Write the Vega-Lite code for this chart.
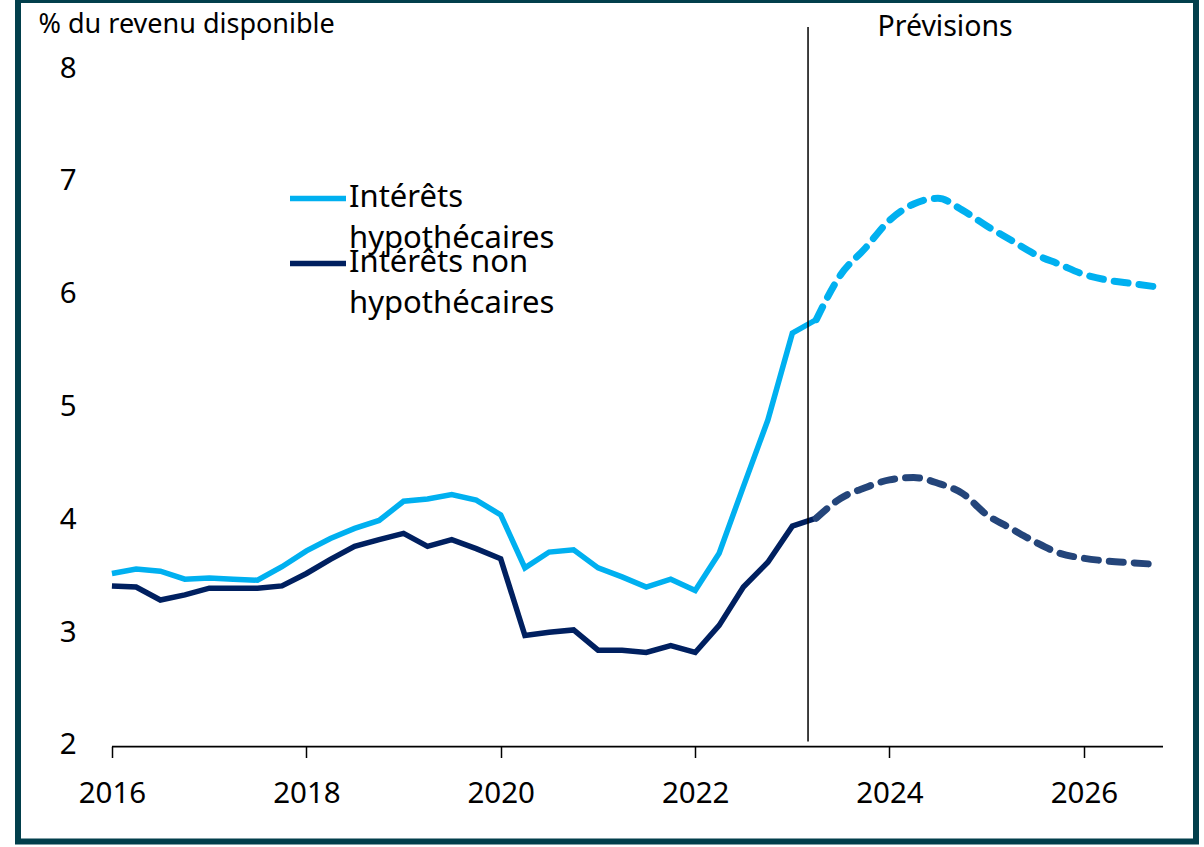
{
  "$schema": "https://vega.github.io/schema/vega-lite/v6.json",
  "width": 1178,
  "height": 841.5,
  "autosize": {"type": "none"},
  "padding": {"left": 18, "top": 0, "right": 8, "bottom": 5.5},
  "background": "white",
  "config": {
    "view": {"stroke": "#023f4c", "strokeWidth": 6, "fill": "white"},
    "font": "Noto Sans",
    "axis": {"labelColor": "black", "titleColor": "black", "grid": false},
    "legend": {
      "orient": "none", "title": null, "padding": 0,
      "symbolType": "M-1,0.55H1", "symbolSize": 3136, "symbolStrokeWidth": 5.5,
      "labelFontSize": 31, "labelOffset": 0, "labelLimit": 0, "labelColor": "black",
      "labelBaseline": "top"
    },
    "style": {"guide-label": {"lineHeight": 41}}
  },
  "datasets": {
    "serie": [
      {"date": "2016-01-01", "serie": "Intérêts hypothécaires", "valeur": 3.52},
      {"date": "2016-04-01", "serie": "Intérêts hypothécaires", "valeur": 3.56},
      {"date": "2016-07-01", "serie": "Intérêts hypothécaires", "valeur": 3.54},
      {"date": "2016-10-01", "serie": "Intérêts hypothécaires", "valeur": 3.47},
      {"date": "2017-01-01", "serie": "Intérêts hypothécaires", "valeur": 3.48},
      {"date": "2017-04-01", "serie": "Intérêts hypothécaires", "valeur": 3.47},
      {"date": "2017-07-01", "serie": "Intérêts hypothécaires", "valeur": 3.46},
      {"date": "2017-10-01", "serie": "Intérêts hypothécaires", "valeur": 3.58},
      {"date": "2018-01-01", "serie": "Intérêts hypothécaires", "valeur": 3.72},
      {"date": "2018-04-01", "serie": "Intérêts hypothécaires", "valeur": 3.83},
      {"date": "2018-07-01", "serie": "Intérêts hypothécaires", "valeur": 3.92},
      {"date": "2018-10-01", "serie": "Intérêts hypothécaires", "valeur": 3.99},
      {"date": "2019-01-01", "serie": "Intérêts hypothécaires", "valeur": 4.16},
      {"date": "2019-04-01", "serie": "Intérêts hypothécaires", "valeur": 4.18},
      {"date": "2019-07-01", "serie": "Intérêts hypothécaires", "valeur": 4.22},
      {"date": "2019-10-01", "serie": "Intérêts hypothécaires", "valeur": 4.17},
      {"date": "2020-01-01", "serie": "Intérêts hypothécaires", "valeur": 4.04},
      {"date": "2020-04-01", "serie": "Intérêts hypothécaires", "valeur": 3.57},
      {"date": "2020-07-01", "serie": "Intérêts hypothécaires", "valeur": 3.71},
      {"date": "2020-10-01", "serie": "Intérêts hypothécaires", "valeur": 3.73},
      {"date": "2021-01-01", "serie": "Intérêts hypothécaires", "valeur": 3.57},
      {"date": "2021-04-01", "serie": "Intérêts hypothécaires", "valeur": 3.49},
      {"date": "2021-07-01", "serie": "Intérêts hypothécaires", "valeur": 3.40},
      {"date": "2021-10-01", "serie": "Intérêts hypothécaires", "valeur": 3.47},
      {"date": "2022-01-01", "serie": "Intérêts hypothécaires", "valeur": 3.37},
      {"date": "2022-04-01", "serie": "Intérêts hypothécaires", "valeur": 3.70},
      {"date": "2022-07-01", "serie": "Intérêts hypothécaires", "valeur": 4.29},
      {"date": "2022-10-01", "serie": "Intérêts hypothécaires", "valeur": 4.88},
      {"date": "2023-01-01", "serie": "Intérêts hypothécaires", "valeur": 5.65},
      {"date": "2023-04-01", "serie": "Intérêts hypothécaires", "valeur": 5.77},
      {"date": "2023-07-01", "serie": "Intérêts hypothécaires", "valeur": 6.165},
      {"date": "2023-10-01", "serie": "Intérêts hypothécaires", "valeur": 6.40},
      {"date": "2024-01-01", "serie": "Intérêts hypothécaires", "valeur": 6.65},
      {"date": "2024-04-01", "serie": "Intérêts hypothécaires", "valeur": 6.795},
      {"date": "2024-07-01", "serie": "Intérêts hypothécaires", "valeur": 6.845},
      {"date": "2024-10-01", "serie": "Intérêts hypothécaires", "valeur": 6.74},
      {"date": "2025-01-01", "serie": "Intérêts hypothécaires", "valeur": 6.60},
      {"date": "2025-04-01", "serie": "Intérêts hypothécaires", "valeur": 6.475},
      {"date": "2025-07-01", "serie": "Intérêts hypothécaires", "valeur": 6.35},
      {"date": "2025-10-01", "serie": "Intérêts hypothécaires", "valeur": 6.26},
      {"date": "2026-01-01", "serie": "Intérêts hypothécaires", "valeur": 6.17},
      {"date": "2026-04-01", "serie": "Intérêts hypothécaires", "valeur": 6.12},
      {"date": "2026-07-01", "serie": "Intérêts hypothécaires", "valeur": 6.09},
      {"date": "2026-10-01", "serie": "Intérêts hypothécaires", "valeur": 6.06},
      {"date": "2016-01-01", "serie": "Intérêts non hypothécaires", "valeur": 3.41},
      {"date": "2016-04-01", "serie": "Intérêts non hypothécaires", "valeur": 3.40},
      {"date": "2016-07-01", "serie": "Intérêts non hypothécaires", "valeur": 3.285},
      {"date": "2016-10-01", "serie": "Intérêts non hypothécaires", "valeur": 3.33},
      {"date": "2017-01-01", "serie": "Intérêts non hypothécaires", "valeur": 3.39},
      {"date": "2017-04-01", "serie": "Intérêts non hypothécaires", "valeur": 3.39},
      {"date": "2017-07-01", "serie": "Intérêts non hypothécaires", "valeur": 3.39},
      {"date": "2017-10-01", "serie": "Intérêts non hypothécaires", "valeur": 3.41},
      {"date": "2018-01-01", "serie": "Intérêts non hypothécaires", "valeur": 3.52},
      {"date": "2018-04-01", "serie": "Intérêts non hypothécaires", "valeur": 3.645},
      {"date": "2018-07-01", "serie": "Intérêts non hypothécaires", "valeur": 3.76},
      {"date": "2018-10-01", "serie": "Intérêts non hypothécaires", "valeur": 3.82},
      {"date": "2019-01-01", "serie": "Intérêts non hypothécaires", "valeur": 3.875},
      {"date": "2019-04-01", "serie": "Intérêts non hypothécaires", "valeur": 3.76},
      {"date": "2019-07-01", "serie": "Intérêts non hypothécaires", "valeur": 3.82},
      {"date": "2019-10-01", "serie": "Intérêts non hypothécaires", "valeur": 3.74},
      {"date": "2020-01-01", "serie": "Intérêts non hypothécaires", "valeur": 3.65},
      {"date": "2020-04-01", "serie": "Intérêts non hypothécaires", "valeur": 2.97},
      {"date": "2020-07-01", "serie": "Intérêts non hypothécaires", "valeur": 3.00},
      {"date": "2020-10-01", "serie": "Intérêts non hypothécaires", "valeur": 3.02},
      {"date": "2021-01-01", "serie": "Intérêts non hypothécaires", "valeur": 2.84},
      {"date": "2021-04-01", "serie": "Intérêts non hypothécaires", "valeur": 2.84},
      {"date": "2021-07-01", "serie": "Intérêts non hypothécaires", "valeur": 2.82},
      {"date": "2021-10-01", "serie": "Intérêts non hypothécaires", "valeur": 2.88},
      {"date": "2022-01-01", "serie": "Intérêts non hypothécaires", "valeur": 2.82},
      {"date": "2022-04-01", "serie": "Intérêts non hypothécaires", "valeur": 3.06},
      {"date": "2022-07-01", "serie": "Intérêts non hypothécaires", "valeur": 3.40},
      {"date": "2022-10-01", "serie": "Intérêts non hypothécaires", "valeur": 3.62},
      {"date": "2023-01-01", "serie": "Intérêts non hypothécaires", "valeur": 3.94},
      {"date": "2023-04-01", "serie": "Intérêts non hypothécaires", "valeur": 4.01},
      {"date": "2023-07-01", "serie": "Intérêts non hypothécaires", "valeur": 4.185},
      {"date": "2023-10-01", "serie": "Intérêts non hypothécaires", "valeur": 4.28},
      {"date": "2024-01-01", "serie": "Intérêts non hypothécaires", "valeur": 4.35},
      {"date": "2024-04-01", "serie": "Intérêts non hypothécaires", "valeur": 4.37},
      {"date": "2024-07-01", "serie": "Intérêts non hypothécaires", "valeur": 4.32},
      {"date": "2024-10-01", "serie": "Intérêts non hypothécaires", "valeur": 4.23},
      {"date": "2025-01-01", "serie": "Intérêts non hypothécaires", "valeur": 4.04},
      {"date": "2025-04-01", "serie": "Intérêts non hypothécaires", "valeur": 3.92},
      {"date": "2025-07-01", "serie": "Intérêts non hypothécaires", "valeur": 3.80},
      {"date": "2025-10-01", "serie": "Intérêts non hypothécaires", "valeur": 3.70},
      {"date": "2026-01-01", "serie": "Intérêts non hypothécaires", "valeur": 3.655},
      {"date": "2026-04-01", "serie": "Intérêts non hypothécaires", "valeur": 3.63},
      {"date": "2026-07-01", "serie": "Intérêts non hypothécaires", "valeur": 3.615},
      {"date": "2026-10-01", "serie": "Intérêts non hypothécaires", "valeur": 3.60}
    ]
  },
  "resolve": {"scale": {"color": "independent"}},
  "layer": [
    {
      "data": {"name": "serie"},
      "transform": [
        {"filter": "toDate(datum.date) <= toDate('2023-04-01')"},
        {"filter": "datum.serie == 'Intérêts hypothécaires'"}
      ],
      "mark": {"type": "line", "strokeWidth": 5.5, "strokeJoin": "miter"},
      "encoding": {
        "x": {
          "field": "date", "type": "temporal",
          "scale": {"domain": [{"year": 2015, "month": 1, "date": 13}, {"year": 2027, "month": 2, "date": 26}]},
          "axis": {
            "values": [{"year": 2016}, {"year": 2018}, {"year": 2020}, {"year": 2022}, {"year": 2024}, {"year": 2026}],
            "format": "%Y", "title": null, "domain": false, "grid": false,
            "tickSize": 11, "tickWidth": 1.5, "tickColor": "black",
            "labelFontSize": 29.5, "labelPadding": 22, "offset": -95
          }
        },
        "y": {
          "field": "valeur", "type": "quantitative",
          "scale": {"domain": [1.1447, 8.6027], "nice": false, "zero": false},
          "axis": {
            "values": [2, 3, 4, 5, 6, 7, 8], "format": "d", "domain": false, "ticks": false, "grid": false,
            "labelFontSize": 29.5, "labelPadding": 36, "offset": -94,
            "title": "% du revenu disponible", "titleAngle": 0, "titleAlign": "left",
            "titleBaseline": "alphabetic", "titleX": -74, "titleY": 32,
            "titleFontSize": 27, "titleFontWeight": "normal"
          }
        },
        "color": {
          "field": "serie", "type": "nominal",
          "scale": {"domain": ["Intérêts hypothécaires"], "range": ["#00B0F0"]},
          "legend": {
            "legendX": 269, "legendY": 152,
            "labelExpr": "['Intérêts', 'hypothécaires']"
          }
        }
      }
    },
    {
      "data": {"name": "serie"},
      "transform": [
        {"filter": "toDate(datum.date) <= toDate('2023-04-01')"},
        {"filter": "datum.serie == 'Intérêts non hypothécaires'"}
      ],
      "mark": {"type": "line", "strokeWidth": 5.5, "strokeJoin": "miter"},
      "encoding": {
        "x": {"field": "date", "type": "temporal"},
        "y": {"field": "valeur", "type": "quantitative"},
        "color": {
          "field": "serie", "type": "nominal",
          "scale": {"domain": ["Intérêts non hypothécaires"], "range": ["#002060"]},
          "legend": {
            "legendX": 269, "legendY": 217,
            "labelExpr": "['Intérêts non', 'hypothécaires']"
          }
        }
      }
    },
    {
      "data": {"name": "serie"},
      "transform": [{"filter": "toDate(datum.date) >= toDate('2023-04-01')"}],
      "mark": {"type": "line", "strokeWidth": 7, "strokeDash": [14, 11], "strokeCap": "round", "interpolate": "monotone"},
      "encoding": {
        "x": {"field": "date", "type": "temporal"},
        "y": {"field": "valeur", "type": "quantitative"},
        "color": {
          "field": "serie", "type": "nominal",
          "scale": {"domain": ["Intérêts hypothécaires", "Intérêts non hypothécaires"], "range": ["#00B0F0", "#24457A"]},
          "legend": null
        }
      }
    },
    {
      "data": {"values": [{}]},
      "mark": {"type": "rule", "color": "black", "strokeWidth": 1.5},
      "encoding": {
        "x": {"datum": {"year": 2023, "month": 3, "date": 1}, "type": "temporal"},
        "y": {"datum": 8.363, "type": "quantitative"},
        "y2": {"datum": 2.03}
      }
    },
    {
      "data": {"values": [{}]},
      "mark": {"type": "rule", "color": "black", "strokeWidth": 1.7},
      "encoding": {
        "x": {"datum": {"year": 2016, "month": 1, "date": 1}, "type": "temporal"},
        "x2": {"datum": {"year": 2026, "month": 10, "date": 25}},
        "y": {"datum": 1.985, "type": "quantitative"}
      }
    },
    {
      "data": {"values": [{}]},
      "mark": {"type": "text", "fontSize": 28.5, "color": "black", "baseline": "alphabetic", "align": "center", "font": "Noto Sans"},
      "encoding": {
        "x": {"datum": {"year": 2024, "month": 7, "date": 28}, "type": "temporal"},
        "y": {"datum": 8.28, "type": "quantitative"},
        "text": {"value": "Prévisions"}
      }
    }
  ]
}
